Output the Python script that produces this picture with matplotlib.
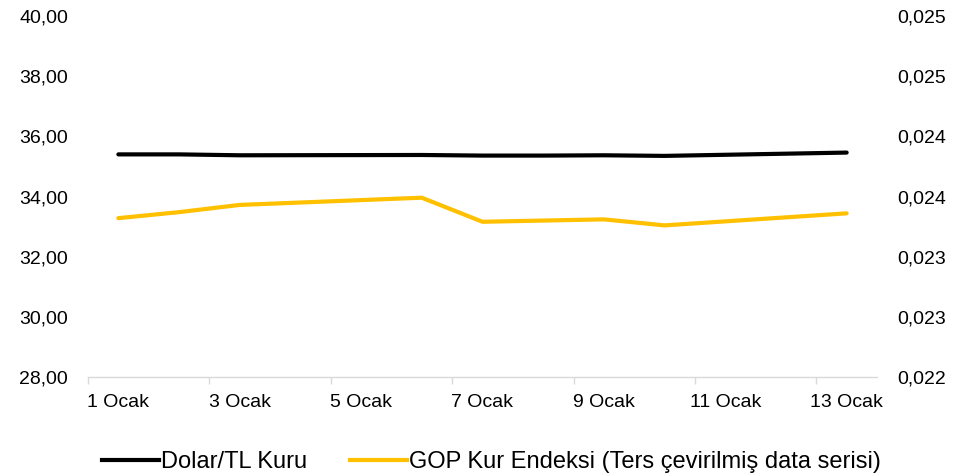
import matplotlib
matplotlib.use("Agg")
import matplotlib.pyplot as plt
from matplotlib.lines import Line2D

# ---- data ----
days = [1, 2, 3, 6, 7, 8, 9, 10, 13]
usd_try = [35.40, 35.40, 35.37, 35.38, 35.36, 35.36, 35.37, 35.35, 35.46]
gop_index = [0.02332, 0.02337, 0.02343, 0.02349, 0.02329, 0.02330, 0.02331, 0.02326, 0.02336]

x_label_days = [1, 3, 5, 7, 9, 11, 13]
x_labels = ["1 Ocak", "3 Ocak", "5 Ocak", "7 Ocak", "9 Ocak", "11 Ocak", "13 Ocak"]
left_ticks = [28, 30, 32, 34, 36, 38, 40]
left_labels = ["28,00", "30,00", "32,00", "34,00", "36,00", "38,00", "40,00"]
right_ticks = [0.0220, 0.0225, 0.0230, 0.0235, 0.0240, 0.0245, 0.0250]
right_labels = ["0,022", "0,023", "0,023", "0,024", "0,024", "0,025", "0,025"]
series_names = ["Dolar/TL Kuru", "GOP Kur Endeksi (Ters çevirilmiş data serisi)"]

plt.rcParams['font.family'] = ['Liberation Sans', 'DejaVu Sans']

fig = plt.figure(figsize=(9.7, 4.75), dpi=100)
ax = fig.add_axes([88/970, 1-377/475, (877-88)/970, (377-16)/475])
ax2 = ax.twinx()

black = "#000000"
yellow = "#FFC000"

ax.plot(days, usd_try, color=black, lw=3.0, solid_capstyle='round', solid_joinstyle='round', zorder=3)
ax2.plot(days, gop_index, color=yellow, lw=3.0, solid_capstyle='round', solid_joinstyle='round', zorder=3)

ax.set_xlim(0.5, 13.5)
ax.set_ylim(28, 40)
ax2.set_ylim(0.0220, 0.0250)

ax.set_yticks(left_ticks)
ax.set_yticklabels(left_labels)
ax2.set_yticks(right_ticks)
ax2.set_yticklabels(right_labels)

ax.set_xticks(x_label_days)
ax.set_xticklabels(x_labels)
ax.set_xticks([d - 0.5 for d in x_label_days], minor=True)

for a in (ax, ax2):
    for s in ("top", "left", "right", "bottom"):
        a.spines[s].set_visible(False)
ax.spines["bottom"].set_visible(True)
ax.spines["bottom"].set_color("#D9D9D9")
ax.spines["bottom"].set_linewidth(1.0)

ax.tick_params(axis='x', which='major', length=0, pad=12, labelsize=14, colors="#000000")
ax.tick_params(axis='x', which='minor', length=5, width=1, color="#D9D9D9")
ax.tick_params(axis='y', length=0, pad=14.4, labelsize=14)
ax2.tick_params(axis='y', length=0, pad=14.4, labelsize=14)

handles = [Line2D([0], [0], color=black, lw=3.0),
           Line2D([0], [0], color=yellow, lw=3.0)]
fig.legend(handles, series_names, loc='center', bbox_to_anchor=(491.5/970, 1-462/475),
           ncol=2, frameon=False, fontsize=17, handlelength=2.4, handletextpad=0.1,
           columnspacing=1.8, borderaxespad=0, borderpad=0)

fig.savefig("out.png", dpi=100)
